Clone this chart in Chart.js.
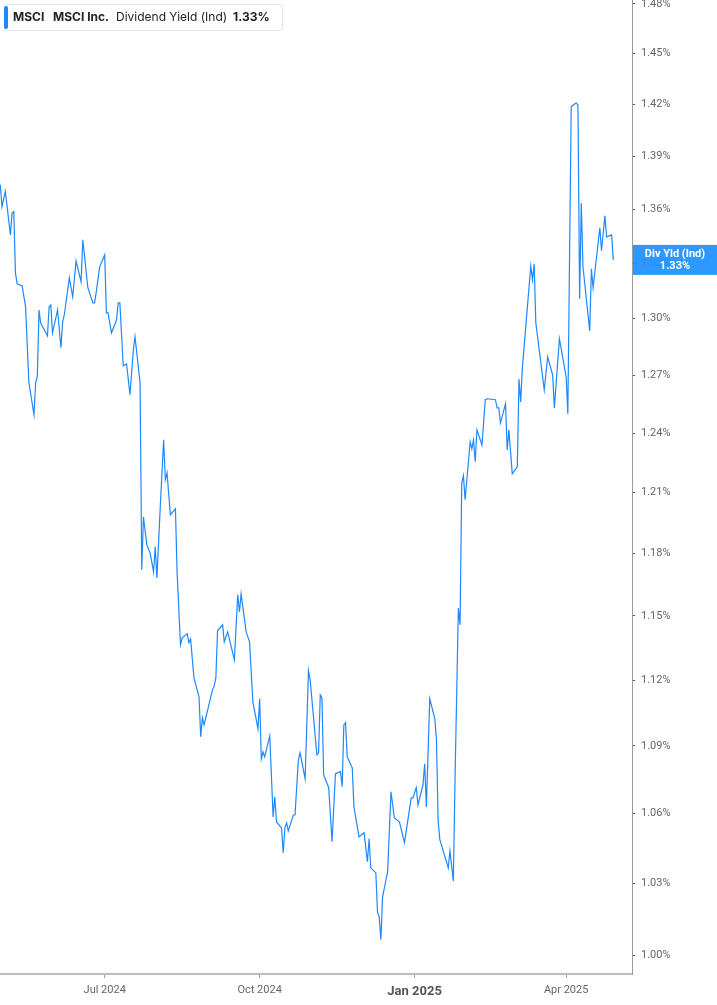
<!DOCTYPE html>
<html>
<head>
<meta charset="utf-8">
<title>MSCI Dividend Yield</title>
<script src="https://cdn.jsdelivr.net/npm/chart.js@4.4.1/dist/chart.umd.min.js"></script>
<style>
    html, body { margin: 0; padding: 0; background: #fff; }
    #wrap { position: relative; width: 717px; height: 1005px; }
    #legend {
        position: absolute; left: 4px; top: 4px; width: 277px; height: 25px;
        border: 1px solid #e6e6e6; border-radius: 3px; background: #fff;
        font-family: Inter, "Noto Sans", sans-serif; font-size: 12px; color: #222;
    }
    #legend .bar { position: absolute; left: -1px; top: 1px; width: 4px; height: 23px; background: #1e88ff; border-radius: 2px; }
    #legend span { position: absolute; top: 4px; line-height: 16px; white-space: nowrap; }
    #legend .b { font-weight: 700; }
</style>
</head>
<body>
<div id="wrap">
    <canvas id="yieldChart"></canvas>
    <div id="legend">
        <div class="bar"></div>
        <span class="b" style="left:8px">MSCI</span>
        <span class="b" style="left:48px">MSCI Inc.</span>
        <span style="left:111px">Dividend Yield (Ind)</span>
        <span class="b" style="left:228px">1.33%</span>
    </div>
</div>
<script>
// trading dates
const dates = [
    '2024-04-30','2024-05-01','2024-05-03','2024-05-06','2024-05-07','2024-05-08','2024-05-09','2024-05-10',
    '2024-05-13','2024-05-15','2024-05-17','2024-05-20','2024-05-21','2024-05-22','2024-05-23','2024-05-24',
    '2024-05-28','2024-05-29','2024-05-30','2024-05-31','2024-06-03','2024-06-05','2024-06-06','2024-06-07',
    '2024-06-10','2024-06-12','2024-06-14','2024-06-17','2024-06-18','2024-06-21','2024-06-24','2024-06-25',
    '2024-06-26','2024-06-28','2024-07-01','2024-07-02','2024-07-03','2024-07-05','2024-07-08','2024-07-09',
    '2024-07-10','2024-07-12','2024-07-14','2024-07-16','2024-07-18','2024-07-19','2024-07-22','2024-07-23',
    '2024-07-24','2024-07-26','2024-07-28','2024-07-30','2024-07-31','2024-08-01','2024-08-03','2024-08-05',
    '2024-08-06','2024-08-07','2024-08-09','2024-08-12','2024-08-13','2024-08-15','2024-08-16','2024-08-19',
    '2024-08-20','2024-08-21','2024-08-23','2024-08-26','2024-08-27','2024-08-28','2024-08-29','2024-09-03',
    '2024-09-04','2024-09-05','2024-09-06','2024-09-09','2024-09-10','2024-09-12','2024-09-16','2024-09-18',
    '2024-09-19','2024-09-20','2024-09-23','2024-09-25','2024-09-27','2024-09-30','2024-10-01','2024-10-02',
    '2024-10-03','2024-10-04','2024-10-07','2024-10-09','2024-10-10','2024-10-11','2024-10-14','2024-10-15',
    '2024-10-16','2024-10-17','2024-10-18','2024-10-21','2024-10-22','2024-10-24','2024-10-25','2024-10-28',
    '2024-10-30','2024-10-31','2024-11-04','2024-11-05','2024-11-06','2024-11-07','2024-11-08','2024-11-11',
    '2024-11-13','2024-11-15','2024-11-18','2024-11-19','2024-11-20','2024-11-21','2024-11-22','2024-11-25',
    '2024-11-26','2024-11-29','2024-12-02','2024-12-04','2024-12-05','2024-12-06','2024-12-09','2024-12-10',
    '2024-12-11','2024-12-12','2024-12-13','2024-12-16','2024-12-18','2024-12-20','2024-12-23','2024-12-26',
    '2024-12-30','2024-12-31','2025-01-02','2025-01-03','2025-01-06','2025-01-07','2025-01-08','2025-01-10',
    '2025-01-13','2025-01-14','2025-01-15','2025-01-16','2025-01-21','2025-01-22','2025-01-24','2025-01-25',
    '2025-01-27','2025-01-28','2025-01-29','2025-01-30','2025-01-31','2025-02-03','2025-02-04','2025-02-05',
    '2025-02-06','2025-02-07','2025-02-10','2025-02-12','2025-02-13','2025-02-18','2025-02-19','2025-02-20',
    '2025-02-21','2025-02-24','2025-02-25','2025-02-26','2025-02-28','2025-03-03','2025-03-04','2025-03-05',
    '2025-03-06','2025-03-11','2025-03-12','2025-03-13','2025-03-14','2025-03-19','2025-03-21','2025-03-24',
    '2025-03-25','2025-03-28','2025-04-01','2025-04-02','2025-04-04','2025-04-06','2025-04-07','2025-04-08',
    '2025-04-09','2025-04-10','2025-04-11','2025-04-15','2025-04-16','2025-04-17','2025-04-21','2025-04-22',
    '2025-04-24','2025-04-25','2025-04-28','2025-04-29'
];

// dividend yield (%)
const divYield = [
    1.3737,1.3613,1.3699,1.3456,1.3578,1.3586,1.3247,1.3187,
    1.3176,1.3064,1.2660,1.2494,1.2660,1.2696,1.3046,1.2976,
    1.2908,1.3063,1.3073,1.2923,1.3046,1.2844,1.2982,1.3019,
    1.3220,1.3117,1.3312,1.3198,1.3429,1.3166,1.3084,1.3084,
    1.3144,1.3279,1.3346,1.3030,1.3030,1.2923,1.2992,1.3084,
    1.3084,1.2749,1.2759,1.2598,1.2833,1.2902,1.2660,1.1721,
    1.1980,1.1842,1.1802,1.1711,1.1832,1.1682,1.2029,1.2366,
    1.2164,1.2199,1.1990,1.2019,1.1706,1.1364,1.1397,1.1416,
    1.1374,1.1392,1.1210,1.1123,1.0941,1.1027,1.0995,1.1155,
    1.1173,1.1210,1.1430,1.1458,1.1378,1.1425,1.1294,1.1601,
    1.1519,1.1605,1.1425,1.1378,1.1100,1.0977,1.1114,1.0842,
    1.0873,1.0851,1.0945,1.0586,1.0674,1.0564,1.0538,1.0431,
    1.0538,1.0560,1.0525,1.0594,1.0594,1.0838,1.0869,1.0754,
    1.1243,1.1200,1.0860,1.0869,1.1132,1.1118,1.0771,1.0714,
    1.0478,1.0776,1.0785,1.0718,1.0995,1.1005,1.0851,1.0802,
    1.0629,1.0499,1.0517,1.0392,1.0491,1.0366,1.0344,1.0176,
    1.0159,1.0063,1.0243,1.0349,1.0696,1.0581,1.0564,1.0474,
    1.0669,1.0669,1.0714,1.0638,1.0727,1.0820,1.0629,1.1114,
    1.1023,1.0927,1.0568,1.0487,1.0366,1.0439,1.0310,1.0745,
    1.1538,1.1458,1.2148,1.2184,1.2064,1.2356,1.2320,1.2366,
    1.2255,1.2417,1.2340,1.2572,1.2577,1.2572,1.2530,1.2530,
    1.2453,1.2551,1.2315,1.2417,1.2194,1.2229,1.2680,1.2561,
    1.2738,1.3285,1.3209,1.3296,1.2976,1.2623,1.2796,1.2701,
    1.2530,1.2892,1.2691,1.2499,1.4185,1.4202,1.4208,1.4196,
    1.3106,1.3634,1.3279,1.2934,1.3269,1.3166,1.3495,1.3368,
    1.3562,1.3445,1.3456,1.3318
];

const yTicks = [1.00, 1.03, 1.06, 1.09, 1.12, 1.15, 1.18, 1.21, 1.24, 1.27, 1.30, 1.33, 1.36, 1.39, 1.42, 1.45, 1.48];
const xTickDates = ['2024-07-01', '2024-10-01', '2025-01-01', '2025-04-01'];
const xTickLabels = ['Jul 2024', 'Oct 2024', 'Jan 2025', 'Apr 2025'];

const DAY = 86400000;
const toMs = d => Date.parse(d + 'T00:00:00Z');
const base = toMs('2024-01-01');
const xMin = base + 119.83 * DAY;
const xMax = base + 495.1 * DAY;

const lineColor = 'rgb(30,136,255)';

const lastValueBadge = {
    id: 'lastValueBadge',
    afterDraw(chart) {
        const ys = chart.scales.y;
        const ctx = chart.ctx;
        const last = divYield[divYield.length - 1];
        const py = ys.getPixelForValue(last);
        const left = ys.left + 1;
        const cx = (left + chart.width) / 2;
        ctx.save();
        ctx.fillStyle = 'rgba(30,144,255,0.93)';
        ctx.fillRect(left, py - 15, chart.width - left, 30);
        ctx.fillStyle = '#fff';
        ctx.font = 'bold 11px Roboto';
        ctx.textAlign = 'center';
        ctx.textBaseline = 'middle';
        ctx.fillText('Div Yld (Ind)', cx, py - 6);
        ctx.fillText(last.toFixed(2) + '%', cx, py + 6);
        ctx.restore();
    }
};

var ctx = document.getElementById('yieldChart').getContext('2d');
var chart = new Chart(ctx, {
    type: 'line',
    data: {
        datasets: [{
            label: 'Dividend Yield (Ind)',
            data: dates.map((d, i) => ({ x: toMs(d), y: divYield[i] })),
            borderColor: lineColor,
            borderWidth: 1.2,
            pointRadius: 0,
            tension: 0,
            fill: false
        }]
    },
    options: {
        responsive: true,
        maintainAspectRatio: false,
        animation: false,
        layout: { padding: 0 },
        plugins: {
            legend: { display: false },
            tooltip: { enabled: false }
        },
        scales: {
            x: {
                type: 'linear',
                bounds: 'data',
                min: xMin,
                max: xMax,
                afterBuildTicks: s => { s.ticks = xTickDates.map(d => ({ value: toMs(d) })); },
                afterFit: s => { s.height = 31; s.paddingLeft = 0; s.paddingRight = 0; },
                grid: { drawOnChartArea: false, drawTicks: true, tickLength: 4, color: '#9a9a9a' },
                border: { display: true, color: '#bdbdbd', width: 2 },
                ticks: {
                    autoSkip: false,
                    maxRotation: 0,
                    padding: 6,
                    color: c => c.index === 2 ? '#555' : '#666',
                    font: c => c.index === 2
                        ? { family: 'Roboto', size: 13, weight: 'bold' }
                        : { family: 'Roboto', size: 11 },
                    callback: (v, i) => xTickLabels[i]
                }
            },
            y: {
                type: 'logarithmic',
                position: 'right',
                bounds: 'data',
                min: 0.9922,
                max: 1.4824,
                afterBuildTicks: s => { s.ticks = yTicks.map(v => ({ value: v })); },
                afterFit: s => { s.width = 85; s.paddingTop = 0; s.paddingBottom = 0; },
                grid: { drawOnChartArea: false, drawTicks: true, tickLength: 3, color: '#555' },
                border: { display: true, color: '#9a9a9a', width: 1 },
                ticks: {
                    autoSkip: false,
                    padding: 6,
                    color: '#666',
                    font: { family: 'Roboto', size: 11 },
                    callback: v => Number(v).toFixed(2) + '%'
                }
            }
        }
    },
    plugins: [lastValueBadge]
});
</script>
</body>
</html>
